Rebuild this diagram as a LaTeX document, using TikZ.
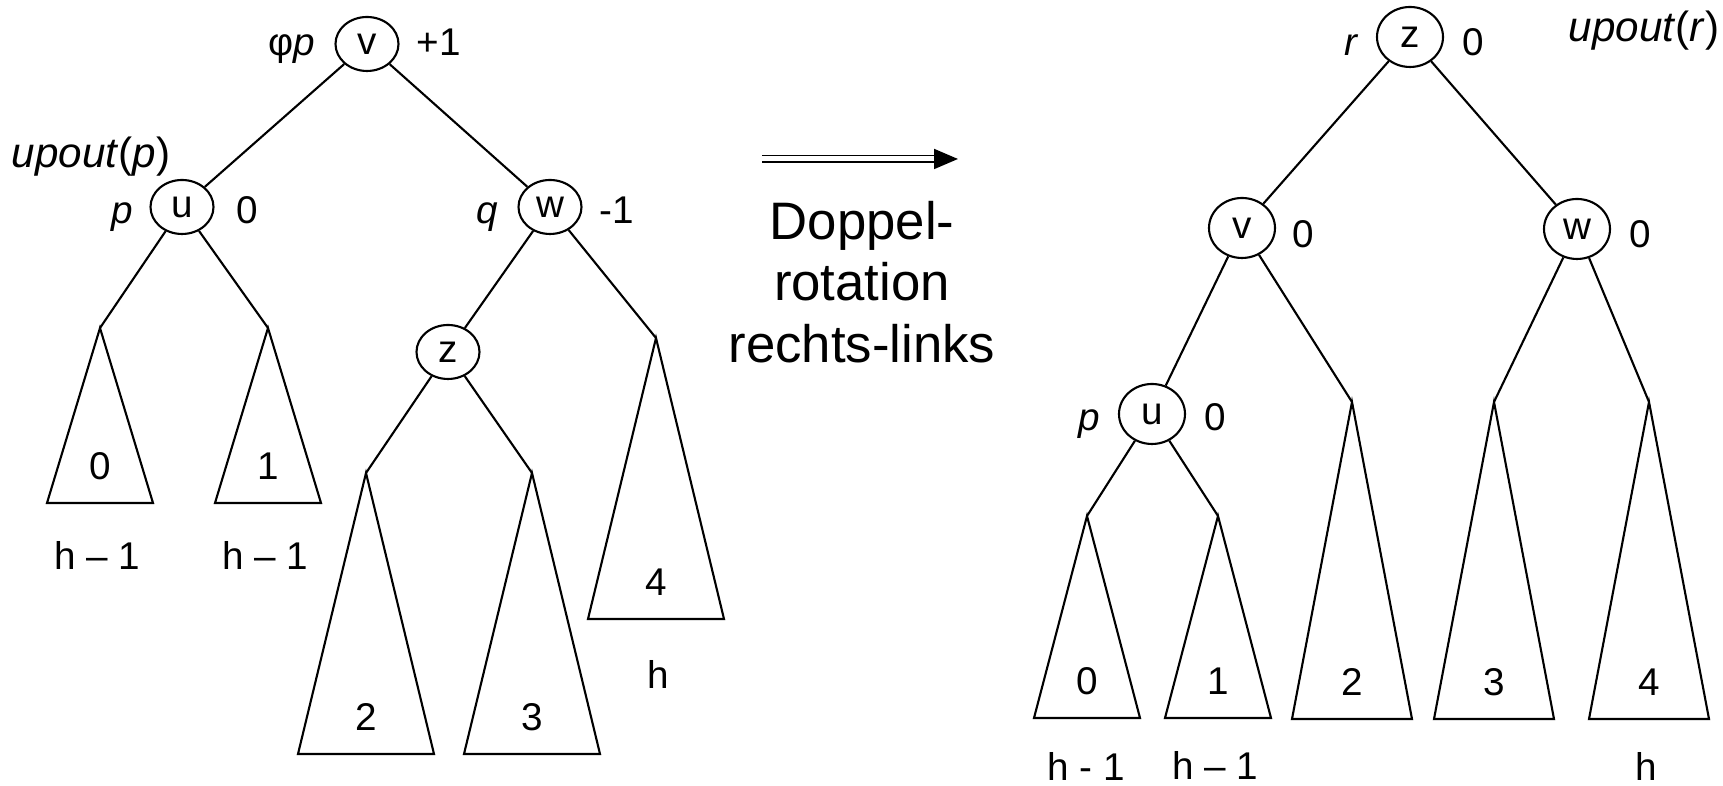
\documentclass[tikz,border=0pt]{standalone}
\usepackage{fontspec}
\setmainfont{Liberation Sans}
\usetikzlibrary{arrows.meta, shapes.geometric}

% subtree triangle: name, apex x, apex y, half width, height, number
\newcommand{\teilbaum}[6]{%
  \coordinate (#1) at (#2,#3);
  \draw (#1) -- ++(-#4,-#5) -- ++({2*#4},0) -- cycle;
  \path (#1) ++(0,{0.37-#5}) node[marke] (#1-nr) {#6};
}

\begin{document}
\begin{tikzpicture}[
    line width=0.6pt,
    font=\fontsize{11}{13}\selectfont,
    knoten/.style={draw, ellipse, inner sep=0pt,
                   minimum width=0.63cm, minimum height=0.54cm},
    knotenR/.style={knoten, minimum width=0.66cm, minimum height=0.60cm},
    marke/.style={inner sep=0pt, text height=0.277cm, text depth=0pt},
    upmarke/.style={marke, font=\fontsize{12}{14}\selectfont},
    doppelpfeil/.style={double, double distance=0.05cm, line width=0.5pt,
                        -{Triangle[length=0.24cm, width=0.2cm]}},
    umschrift/.style={align=center, inner sep=0pt,
                      font=\fontsize{15}{17.5}\selectfont},
  ]
    \useasboundingbox (0,0) rectangle (17.23,7.86);

    % ---------- left tree (before) ----------
    \node[knoten] (lv) at (3.67,7.42) {v};
    \node[knoten] (lu) at (1.82,5.79) {u};
    \node[knoten] (lw) at (5.50,5.79) {w};
    \node[knoten] (lz) at (4.48,4.34) {z};

    \node[marke]   (lv-name) at (2.92,7.44) {φ\textit{p}};
    \node[marke]   (lv-bf)   at (4.39,7.44) {+1};
    \node[upmarke] (lu-up)   at (0.91,6.32) {\textit{upout}(\textit{p})};
    \node[marke]   (lu-name) at (1.22,5.76) {\textit{p}};
    \node[marke]   (lu-bf)   at (2.47,5.76) {0};
    \node[marke]   (lw-name) at (4.87,5.76) {\textit{q}};
    \node[marke]   (lw-bf)   at (6.17,5.76) {-1};

    \teilbaum{L0}{1.00}{4.58}{0.53}{1.75}{0}
    \teilbaum{L1}{2.68}{4.58}{0.53}{1.75}{1}
    \teilbaum{L2}{3.66}{3.13}{0.68}{2.81}{2}
    \teilbaum{L3}{5.32}{3.13}{0.68}{2.81}{3}
    \teilbaum{L4}{6.56}{4.48}{0.68}{2.81}{4}

    \node[marke] (L0-h) at (0.97,2.30) {h – 1};
    \node[marke] (L1-h) at (2.65,2.30) {h – 1};
    \node[marke] (L4-h) at (6.58,1.11) {h};

    \draw (lv) -- (lu);
    \draw (lv) -- (lw);
    \draw (lu) -- (L0);
    \draw (lu) -- (L1);
    \draw (lw) -- (lz);
    \draw (lw) -- (L4);
    \draw (lz) -- (L2);
    \draw (lz) -- (L3);

    % ---------- rotation arrow ----------
    \coordinate (pfeilA) at (7.62,6.27);
    \coordinate (pfeilB) at (9.58,6.27);
    \draw[doppelpfeil] (pfeilA) -- (pfeilB);
    \node[umschrift] (rot) at (8.62,5.04) {Doppel-\\rotation\\rechts-links};

    % ---------- right tree (after) ----------
    \node[knotenR] (rz) at (14.10,7.49) {z};
    \node[knotenR] (rv) at (12.42,5.58) {v};
    \node[knotenR] (rw) at (15.77,5.57) {w};
    \node[knotenR] (ru) at (11.52,3.72) {u};

    \node[marke]   (rz-name) at (13.52,7.44) {\textit{r}};
    \node[marke]   (rz-bf)   at (14.73,7.44) {0};
    \node[upmarke] (rz-up)   at (16.44,7.58) {\textit{upout}(\textit{r})};
    \node[marke]   (rv-bf)   at (13.03,5.52) {0};
    \node[marke]   (rw-bf)   at (16.40,5.52) {0};
    \node[marke]   (ru-name) at (10.89,3.69) {\textit{p}};
    \node[marke]   (ru-bf)   at (12.15,3.69) {0};

    \teilbaum{R0}{10.87}{2.70}{0.53}{2.02}{0}
    \teilbaum{R1}{12.18}{2.70}{0.53}{2.02}{1}
    \teilbaum{R2}{13.52}{3.84}{0.60}{3.17}{2}
    \teilbaum{R3}{14.94}{3.84}{0.60}{3.17}{3}
    \teilbaum{R4}{16.49}{3.84}{0.60}{3.17}{4}

    \node[marke] (R0-h) at (10.86,0.19) {h - 1};
    \node[marke] (R1-h) at (12.15,0.20) {h – 1};
    \node[marke] (R4-h) at (16.46,0.19) {h};

    \draw (rz) -- (rv);
    \draw (rz) -- (rw);
    \draw (rv) -- (ru);
    \draw (rv) -- (R2);
    \draw (rw) -- (R3);
    \draw (rw) -- (R4);
    \draw (ru) -- (R0);
    \draw (ru) -- (R1);
\end{tikzpicture}
\end{document}
